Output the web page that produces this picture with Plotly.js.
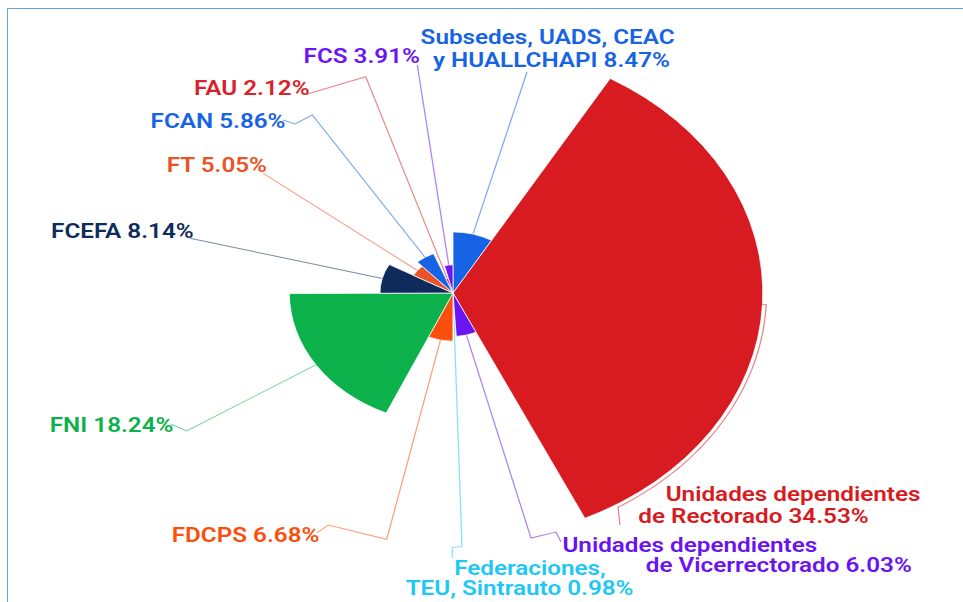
<!DOCTYPE html>
<html><head><meta charset="utf-8">
<script src="https://cdn.plot.ly/plotly-3.0.1.min.js"></script>
<style>
html,body{margin:0;padding:0;background:#fff;overflow:hidden;}
#wrap{position:absolute;left:0;top:0;width:963px;height:602px;overflow:hidden;background:#fff;}
#chart{position:absolute;left:0;top:0;width:774px;height:602px;transform:scaleX(1.24419);transform-origin:0 0;}
#frame{position:absolute;left:7px;top:8px;width:1000px;height:700px;border-left:1.5px solid #5da9dd;border-top:1.5px solid #5da9dd;}
</style></head><body>
<div id="wrap"><div id="frame"></div><div id="chart"></div></div>
<script>
// ---- data ----
const categories = [
  "Subsedes, UADS, CEAC y HUALLCHAPI",
  "Unidades dependientes de Rectorado",
  "Unidades dependientes de Vicerrectorado",
  "Federaciones, TEU, Sintrauto",
  "FDCPS", "FNI", "FCEFA", "FT", "FCAN", "FAU", "FCS"
];
const values = [8.47, 34.53, 6.03, 0.98, 6.68, 18.24, 8.14, 5.05, 5.86, 2.12, 3.91];
const labelLines = [
  ["Subsedes, UADS, CEAC", "y HUALLCHAPI 8.47%"],
  ["Unidades dependientes", "de Rectorado 34.53%"],
  ["Unidades dependientes", "de Vicerrectorado 6.03%"],
  ["Federaciones,", "TEU, Sintrauto 0.98%"],
  ["FDCPS 6.68%"], ["FNI 18.24%"], ["FCEFA 8.14%"], ["FT 5.05%"],
  ["FCAN 5.86%"], ["FAU 2.12%"], ["FCS 3.91%"]
];

// ---- styles / layout ----
const colors = ["#1663e6","#d71b20","#6a14f0","#1ec8f5","#fc4e0c","#0db14b","#0f2b5b","#ea5327","#1663e6","#d8222a","#6e16f0"];
const W = 774, H = 602, SX = 963 / W;          // page is drawn stretched horizontally
const CXr = 453, CY = 293, R = 249;             // centre (screen px) and outer radius
const CX = CXr / SX;
// label line positions [left x, middle y] in screen px
const labelPos = [
  [[419,37],[431.7,60.5]],
  [[665,494.2],[636.7,516.7]],
  [[561.7,545.5],[644.3,565.3]],
  [[452.7,568.3],[404,588.3]],
  [[170,535.3]],[[48.3,425]],[[49.3,231.7]],[[165.7,166]],
  [[149,121.5]],[[193.3,88.5]],[[302.7,56.8]]
];
// leader line bend points in screen px (after the slice edge point)
const leaderBends = [
  [[527,72]],
  null,
  [[531,538],[556,532],[561,542]],
  [[462,546.5],[452.3,547.5],[452.3,558]],
  [[386.7,539.3],[328.3,525],[317,533]],
  [[186.7,431],[171,424]],
  [[190,238.3]],
  [[263.3,173.3]],
  [[312.3,115],[295,124],[283,120]],
  [[365.7,76.7],[306.7,94.3]],
  [[417.3,65]]
];

const maxV = Math.max(...values);
const widths = values.map(v => v * 3.6);
const thetas = [];
let acc = 0;
values.forEach(v => { thetas.push(acc + v * 1.8); acc += v * 3.6; });

function toPaper(ux, uy){ return [ux / W, 1 - uy / H]; }
function polarPt(angDeg, rpx){
  const a = angDeg * Math.PI / 180;
  return [CX + rpx * Math.sin(a), CY - rpx * Math.cos(a)];
}
function hexA(hex, a){
  const n = parseInt(hex.slice(1),16);
  return `rgba(${(n>>16)&255},${(n>>8)&255},${n&255},${a})`;
}

const shapes = [];
values.forEach((v, i) => {
  const pts = [];
  const rp = R * v / maxV;
  pts.push(polarPt(thetas[i], rp));
  if (leaderBends[i]) {
    leaderBends[i].forEach(p => pts.push([p[0] / SX, p[1]]));
  } else {
    // rectorado: runs along the outside of the arc, then down to the label
    for (let a = thetas[i]; a <= 148.2; a += 1.5) pts.push(polarPt(a, R + 3));
    pts.push([618 / SX, 507]);
    pts.push([620 / SX, 525]);
  }
  const path = pts.map((p, k) => { const q = toPaper(p[0], p[1]); return (k ? "L" : "M") + q[0].toFixed(5) + "," + q[1].toFixed(5); }).join(" ");
  shapes.push({type: "path", xref: "paper", yref: "paper", path: path,
    line: {color: hexA(colors[i], 0.55), width: 1}, layer: "below"});
});

const annotations = [];
labelLines.forEach((lines, i) => {
  lines.forEach((t, k) => {
    const p = labelPos[i][k];
    const q = toPaper(p[0] / SX, p[1]);
    annotations.push({xref: "paper", yref: "paper", x: q[0], y: q[1], xanchor: "left", yanchor: "middle",
      text: t, showarrow: false, borderpad: 0,
      font: {family: "Roboto, 'Noto Sans', sans-serif", size: 19.5, color: colors[i], weight: 600}});
  });
});

const trace = {
  type: "barpolar",
  r: values, theta: thetas, width: widths,
  text: categories, hoverinfo: "text",
  marker: {color: colors, line: {color: "rgba(255,255,255,0.85)", width: 0.8}},
  showlegend: false
};

const layout = {
  width: W, height: H,
  margin: {l: 0, r: 0, t: 0, b: 0},
  paper_bgcolor: "rgba(0,0,0,0)", plot_bgcolor: "rgba(0,0,0,0)",
  showlegend: false,
  polar: {
    domain: {x: [(CX - R) / W, (CX + R) / W], y: [1 - (CY + R) / H, 1 - (CY - R) / H]},
    bgcolor: "rgba(0,0,0,0)",
    radialaxis: {range: [0, maxV], visible: false, showgrid: false, showline: false, showticklabels: false, ticks: ""},
    angularaxis: {rotation: 90, direction: "clockwise", visible: false, showgrid: false, showline: false, showticklabels: false, ticks: ""}
  },
  shapes: shapes,
  annotations: annotations
};

Plotly.newPlot("chart", [trace], layout, {staticPlot: true, displayModeBar: false});
</script>
</body></html>
